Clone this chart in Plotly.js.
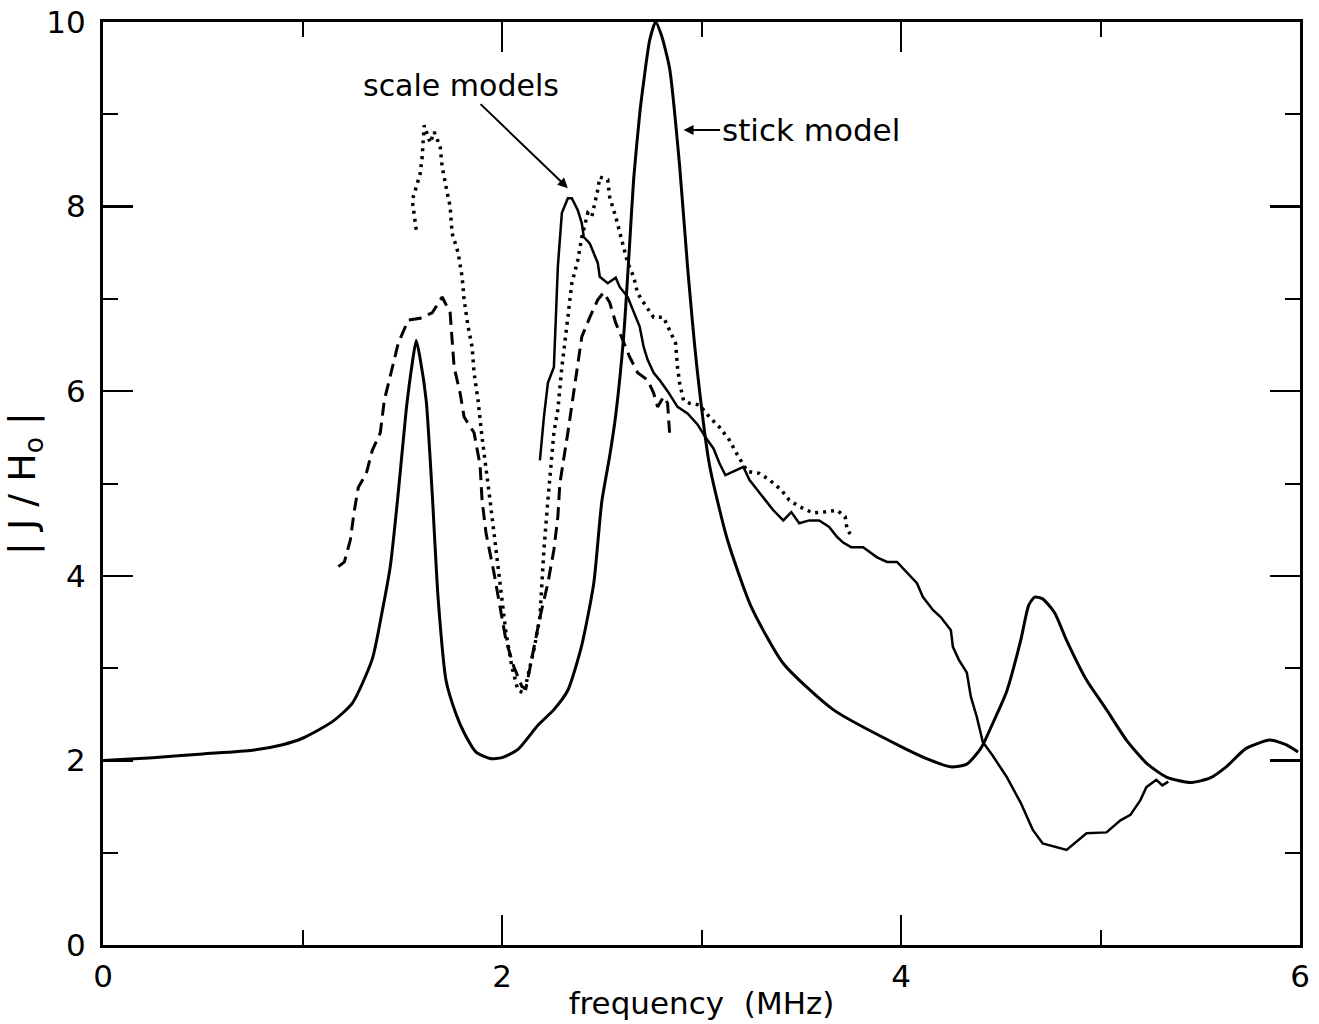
<!DOCTYPE html>
<html>
<head>
<meta charset="utf-8">
<script src="https://cdn.plot.ly/plotly-3.0.1.min.js"></script>
<style>html,body{margin:0;padding:0;background:#fff;}#chart{width:1319px;height:1024px;}</style>
</head>
<body>
<div id="chart"></div>
<script>
// stick model (smooth solid curve)
const stickX = [0, 0.25, 0.5, 0.75, 0.9, 1.0, 1.15, 1.25, 1.35, 1.40, 1.44, 1.48, 1.52, 1.55, 1.57, 1.59, 1.62, 1.65, 1.68, 1.72, 1.77, 1.81, 1.87, 1.94, 2.0, 2.08, 2.18, 2.26, 2.33, 2.40, 2.46, 2.50, 2.54, 2.57, 2.61, 2.64, 2.66, 2.69, 2.71, 2.74, 2.77, 2.80, 2.84, 2.89, 2.93, 2.98, 3.04, 3.13, 3.25, 3.41, 3.66, 4.0, 4.15, 4.25, 4.33, 4.40, 4.47, 4.53, 4.60, 4.64, 4.67, 4.71, 4.77, 4.83, 4.93, 5.03, 5.13, 5.23, 5.33, 5.45, 5.55, 5.63, 5.73, 5.85, 5.93, 5.99];
const stickY = [2.0, 2.03, 2.07, 2.11, 2.17, 2.24, 2.42, 2.62, 3.1, 3.62, 4.1, 4.9, 5.8, 6.3, 6.55, 6.35, 5.9, 4.9, 3.75, 2.86, 2.5, 2.3, 2.09, 2.02, 2.03, 2.12, 2.38, 2.55, 2.76, 3.25, 3.92, 4.8, 5.3, 5.74, 6.6, 7.6, 8.3, 9.0, 9.35, 9.8, 10.0, 9.85, 9.5, 8.45, 7.35, 6.2, 5.2, 4.39, 3.66, 3.05, 2.55, 2.15, 2.0, 1.93, 1.96, 2.13, 2.45, 2.75, 3.3, 3.68, 3.77, 3.75, 3.6, 3.3, 2.87, 2.55, 2.22, 1.97, 1.82, 1.76, 1.81, 1.93, 2.13, 2.22, 2.17, 2.09];

// scale model, solid jagged trace
const scaleSolidX = [2.19, 2.21, 2.23, 2.26, 2.27, 2.28, 2.30, 2.33, 2.35, 2.38, 2.40, 2.41, 2.44, 2.48, 2.49, 2.53, 2.57, 2.59, 2.63, 2.66, 2.69, 2.71, 2.73, 2.76, 2.79, 2.83, 2.88, 2.93, 2.98, 3.02, 3.06, 3.09, 3.12, 3.18, 3.21, 3.24, 3.28, 3.33, 3.36, 3.41, 3.45, 3.49, 3.54, 3.59, 3.64, 3.68, 3.71, 3.75, 3.81, 3.88, 3.93, 3.98, 4.03, 4.08, 4.11, 4.16, 4.20, 4.25, 4.26, 4.29, 4.33, 4.35, 4.38, 4.41, 4.46, 4.53, 4.60, 4.66, 4.71, 4.83, 4.93, 5.03, 5.10, 5.15, 5.20, 5.23, 5.28, 5.31, 5.34];
const scaleSolidY = [5.25, 5.72, 6.09, 6.26, 6.80, 7.35, 7.93, 8.09, 8.09, 7.96, 7.82, 7.67, 7.60, 7.39, 7.24, 7.17, 7.23, 7.13, 7.02, 6.85, 6.70, 6.48, 6.34, 6.20, 6.12, 6.0, 5.83, 5.76, 5.64, 5.50, 5.38, 5.22, 5.09, 5.15, 5.18, 5.04, 4.93, 4.79, 4.71, 4.60, 4.69, 4.57, 4.60, 4.60, 4.53, 4.42, 4.36, 4.31, 4.31, 4.20, 4.15, 4.15, 4.03, 3.92, 3.77, 3.63, 3.55, 3.41, 3.23, 3.09, 2.95, 2.69, 2.47, 2.2, 2.05, 1.82, 1.54, 1.25, 1.1, 1.03, 1.21, 1.22, 1.35, 1.41, 1.57, 1.71, 1.79, 1.73, 1.77];

// scale model, dashed trace
const scaleDashX = [1.18, 1.21, 1.24, 1.26, 1.28, 1.32, 1.35, 1.39, 1.41, 1.45, 1.48, 1.53, 1.59, 1.65, 1.70, 1.74, 1.75, 1.76, 1.79, 1.81, 1.86, 1.89, 1.90, 1.92, 1.96, 1.99, 2.02, 2.06, 2.10, 2.12, 2.14, 2.19, 2.23, 2.26, 2.28, 2.29, 2.33, 2.36, 2.40, 2.44, 2.48, 2.51, 2.54, 2.57, 2.60, 2.64, 2.68, 2.73, 2.76, 2.78, 2.81, 2.83, 2.84];
const scaleDashY = [4.10, 4.15, 4.39, 4.71, 4.96, 5.11, 5.36, 5.55, 5.90, 6.26, 6.52, 6.77, 6.79, 6.85, 7.02, 6.85, 6.60, 6.26, 5.98, 5.72, 5.55, 5.20, 4.82, 4.46, 4.03, 3.66, 3.30, 3.01, 2.80, 2.78, 3.01, 3.55, 3.92, 4.28, 4.64, 5.0, 5.55, 6.01, 6.59, 6.80, 6.99, 7.07, 6.96, 6.74, 6.59, 6.37, 6.20, 6.12, 5.98, 5.83, 5.94, 5.87, 5.55];

// scale model, dotted trace
const scaleDotX = [1.57, 1.56, 1.55, 1.57, 1.59, 1.60, 1.61, 1.64, 1.66, 1.69, 1.70, 1.72, 1.74, 1.75, 1.78, 1.80, 1.81, 1.83, 1.85, 1.86, 1.88, 1.90, 1.92, 1.94, 1.96, 1.98, 2.00, 2.02, 2.05, 2.08, 2.11, 2.16, 2.19, 2.21, 2.23, 2.26, 2.28, 2.30, 2.33, 2.35, 2.38, 2.40, 2.43, 2.45, 2.48, 2.49, 2.53, 2.54, 2.57, 2.59, 2.61, 2.63, 2.66, 2.68, 2.71, 2.76, 2.81, 2.84, 2.87, 2.88, 2.89, 2.91, 2.94, 2.99, 3.04, 3.09, 3.14, 3.18, 3.23, 3.29, 3.34, 3.40, 3.44, 3.49, 3.56, 3.61, 3.68, 3.72, 3.73, 3.75];
const scaleDotY = [7.75, 7.93, 8.07, 8.21, 8.36, 8.54, 8.88, 8.69, 8.81, 8.65, 8.43, 8.21, 8.0, 7.71, 7.5, 7.24, 6.99, 6.70, 6.48, 6.20, 5.90, 5.50, 5.18, 4.82, 4.46, 4.10, 3.74, 3.38, 3.01, 2.76, 2.73, 3.2, 3.55, 4.28, 4.82, 5.55, 5.80, 6.26, 6.80, 7.17, 7.42, 7.67, 7.93, 7.89, 8.18, 8.32, 8.29, 8.10, 7.89, 7.71, 7.53, 7.39, 7.24, 7.06, 6.96, 6.80, 6.80, 6.66, 6.52, 6.26, 6.09, 5.90, 5.87, 5.85, 5.72, 5.61, 5.47, 5.31, 5.13, 5.11, 5.04, 4.93, 4.82, 4.75, 4.68, 4.69, 4.71, 4.64, 4.50, 4.44];

const xTickVals = [0, 2, 4, 6];
const xTickText = ['0', '2', '4', '6'];
const yTickVals = [0, 2, 4, 6, 8, 10];
const yTickText = ['0', '2', '4', '6', '8', '10'];

const FONT = 'DejaVu Sans, sans-serif';

const traces = [
  {x: stickX, y: stickY, mode: 'lines', line: {color: '#000', width: 3, shape: 'spline', smoothing: 0.6}, hoverinfo: 'skip'},
  {x: scaleSolidX, y: scaleSolidY, mode: 'lines', line: {color: '#000', width: 2.5}, hoverinfo: 'skip'},
  {x: scaleDashX, y: scaleDashY, mode: 'lines', line: {color: '#000', width: 3, dash: '13px,7px'}, hoverinfo: 'skip'},
  {x: scaleDotX, y: scaleDotY, mode: 'lines', line: {color: '#000', width: 3.5, dash: '3px,5px'}, hoverinfo: 'skip'}
];

const axisCommon = {
  ticks: 'inside', ticklen: 30, tickwidth: 2.5, tickcolor: '#000',
  mirror: 'allticks', showline: true, linewidth: 3, linecolor: '#000',
  showgrid: false, zeroline: false,
  minor: {dtick: 1, tick0: 0, ticks: 'inside', ticklen: 15, tickwidth: 2, tickcolor: '#000', showgrid: false},
  tickfont: {family: FONT, size: 31, color: '#000'},
  tickmode: 'array'
};

const layout = {
  width: 1319, height: 1024,
  margin: {l: 103, r: 19, t: 22, b: 79, pad: 0},
  paper_bgcolor: '#fff', plot_bgcolor: '#fff',
  showlegend: false,
  xaxis: Object.assign({}, axisCommon, {
    range: [0, 6], tickvals: xTickVals, ticktext: xTickText, ticklabelstandoff: 2,
    title: {text: 'frequency  (MHz)', font: {family: FONT, size: 31, color: '#000'}, standoff: 0}
  }),
  yaxis: Object.assign({}, axisCommon, {
    range: [0, 10], tickvals: yTickVals, ticktext: yTickText, ticklabelstandoff: 8,
    title: {text: '| J / H<sub>o</sub> |', font: {family: FONT, size: 38, color: '#000'}, standoff: 2}
  }),
  annotations: [
    {x: 2.91, y: 8.83, xref: 'x', yref: 'y', text: 'stick model', showarrow: true,
     ax: 127, ay: 0, arrowhead: 2, arrowsize: 1, arrowwidth: 2, arrowcolor: '#000',
     font: {family: FONT, size: 31, color: '#000'}},
    {x: 2.33, y: 8.2, xref: 'x', yref: 'y', text: 'scale models', showarrow: true,
     ax: -107, ay: -103, arrowhead: 2, arrowsize: 1, arrowwidth: 2, arrowcolor: '#000',
     font: {family: FONT, size: 30, color: '#000'}}
  ]
};

Plotly.newPlot('chart', traces, layout, {staticPlot: true, displayModeBar: false});
</script>
</body>
</html>
